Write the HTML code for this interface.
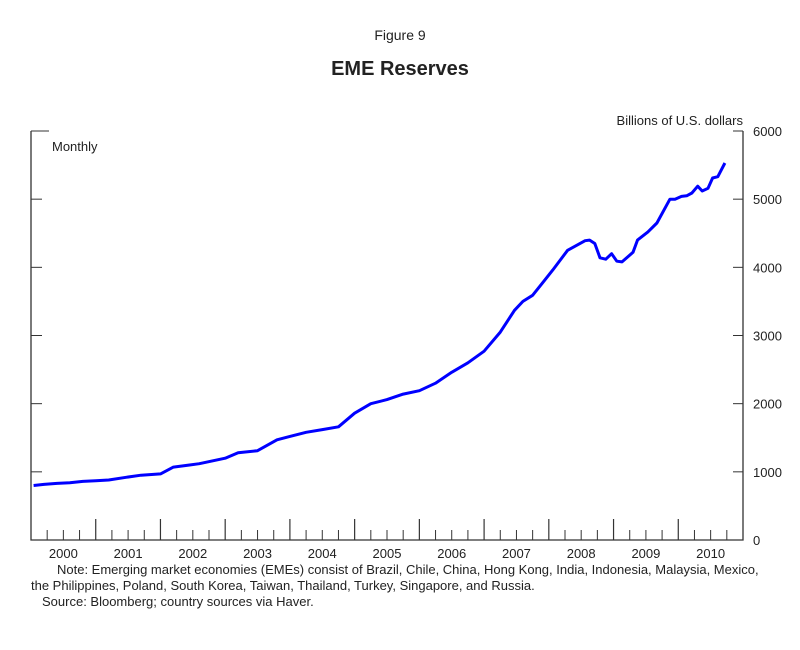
<!DOCTYPE html>
<html><head><meta charset="utf-8"><style>
body{margin:0;background:#fff;font-family:"Liberation Sans",Arial,sans-serif;}
svg text{font-family:"Liberation Sans",Arial,sans-serif;fill:#222;}
</style></head><body>
<svg width="800" height="645" viewBox="0 0 800 645" id="c">
<text x="400" y="40" font-size="14" text-anchor="middle">Figure 9</text>
<text x="400" y="75" font-size="20" font-weight="bold" text-anchor="middle">EME Reserves</text>
<text x="743" y="125" font-size="13" text-anchor="end">Billions of U.S. dollars</text>
<text x="52" y="151" font-size="13">Monthly</text>
<text x="57" y="574" font-size="13">Note: Emerging market economies (EMEs) consist of Brazil, Chile, China, Hong Kong, India, Indonesia, Malaysia, Mexico,</text>
<text x="31" y="590" font-size="13">the Philippines, Poland, South Korea, Taiwan, Thailand, Turkey, Singapore, and Russia.</text>
<text x="42" y="606" font-size="13">Source: Bloomberg; country sources via Haver.</text>
<g id="axes"></g>
<path id="line" fill="none" stroke="#0000ff" stroke-width="3" stroke-linejoin="round"/>
</svg>
<script>
const dates=[2000.04,2000.2,2000.4,2000.6,2000.8,2001.0,2001.2,2001.47,2001.7,2002.0,2002.2,2002.45,2002.6,2003.0,2003.2,2003.5,2003.8,2004.0,2004.25,2004.5,2004.75,2005.0,2005.25,2005.5,2005.75,2006.0,2006.25,2006.5,2006.75,2007.0,2007.25,2007.47,2007.6,2007.75,2007.91,2008.06,2008.29,2008.56,2008.63,2008.71,2008.79,2008.88,2008.97,2009.05,2009.13,2009.3,2009.37,2009.53,2009.67,2009.87,2009.95,2010.05,2010.13,2010.21,2010.3,2010.37,2010.46,2010.53,2010.61,2010.72];
const values=[800,815,830,840,860,870,880,920,950,970,1070,1100,1120,1200,1280,1310,1470,1520,1580,1620,1660,1860,2000,2060,2140,2190,2300,2460,2600,2770,3050,3370,3500,3590,3780,3960,4250,4390,4400,4350,4140,4120,4200,4090,4080,4220,4400,4520,4650,5000,5000,5040,5050,5090,5190,5120,5160,5310,5330,5530];
const yTicks=[0,1000,2000,3000,4000,5000,6000];
const years=[2000,2001,2002,2003,2004,2005,2006,2007,2008,2009,2010];
const L=31,R=743,T=131,B=540,x0=2000,x1=2011,ymax=6000;
const X=d=>L+(d-x0)/(x1-x0)*(R-L);
const Y=v=>B-v/ymax*(B-T);
const ns="http://www.w3.org/2000/svg",g=document.getElementById('axes');
function mk(t,a){const e=document.createElementNS(ns,t);for(const k in a)e.setAttribute(k,a[k]);g.appendChild(e);return e;}
let e=mk('path',{d:`M${L} ${T}V${B}H${R}V${T}`,fill:'none',stroke:'#333','stroke-width':1.3});


yTicks.forEach(v=>{
 let t=mk('line',{x1:R-10,x2:R,y1:Y(v),y2:Y(v),stroke:'#333'});
 
 
 if(v>0&&v<ymax){let t2=mk('line',{x1:L,x2:L+11,y1:Y(v),y2:Y(v),stroke:'#333'});
 
 }
 if(v==ymax){let t3=mk('line',{x1:L,x2:L+18,y1:Y(v),y2:Y(v),stroke:'#333'});
 
 }
 let l=mk('text',{x:R+10,y:Y(v)+5,'font-size':13});l.textContent=v;
 
 
});
years.forEach(yr=>{
 for(let q=1;q<4;q++){let t=mk('line',{x1:X(yr+q/4),x2:X(yr+q/4),y1:B-10,y2:B,stroke:'#333'});
 
 }
 if(yr>2000){let t=mk('line',{x1:X(yr),x2:X(yr),y1:B-21,y2:B,stroke:'#333','stroke-width':1.2});
 
 }
 let l=mk('text',{x:X(yr+0.5),y:B+18,'font-size':13,'text-anchor':'middle'});l.textContent=yr;
 
 
});
document.getElementById('line').setAttribute('d',dates.map((d,i)=>(i?'L':'M')+X(d).toFixed(1)+' '+Y(values[i]).toFixed(1)).join(''));
</script>
</body></html>
